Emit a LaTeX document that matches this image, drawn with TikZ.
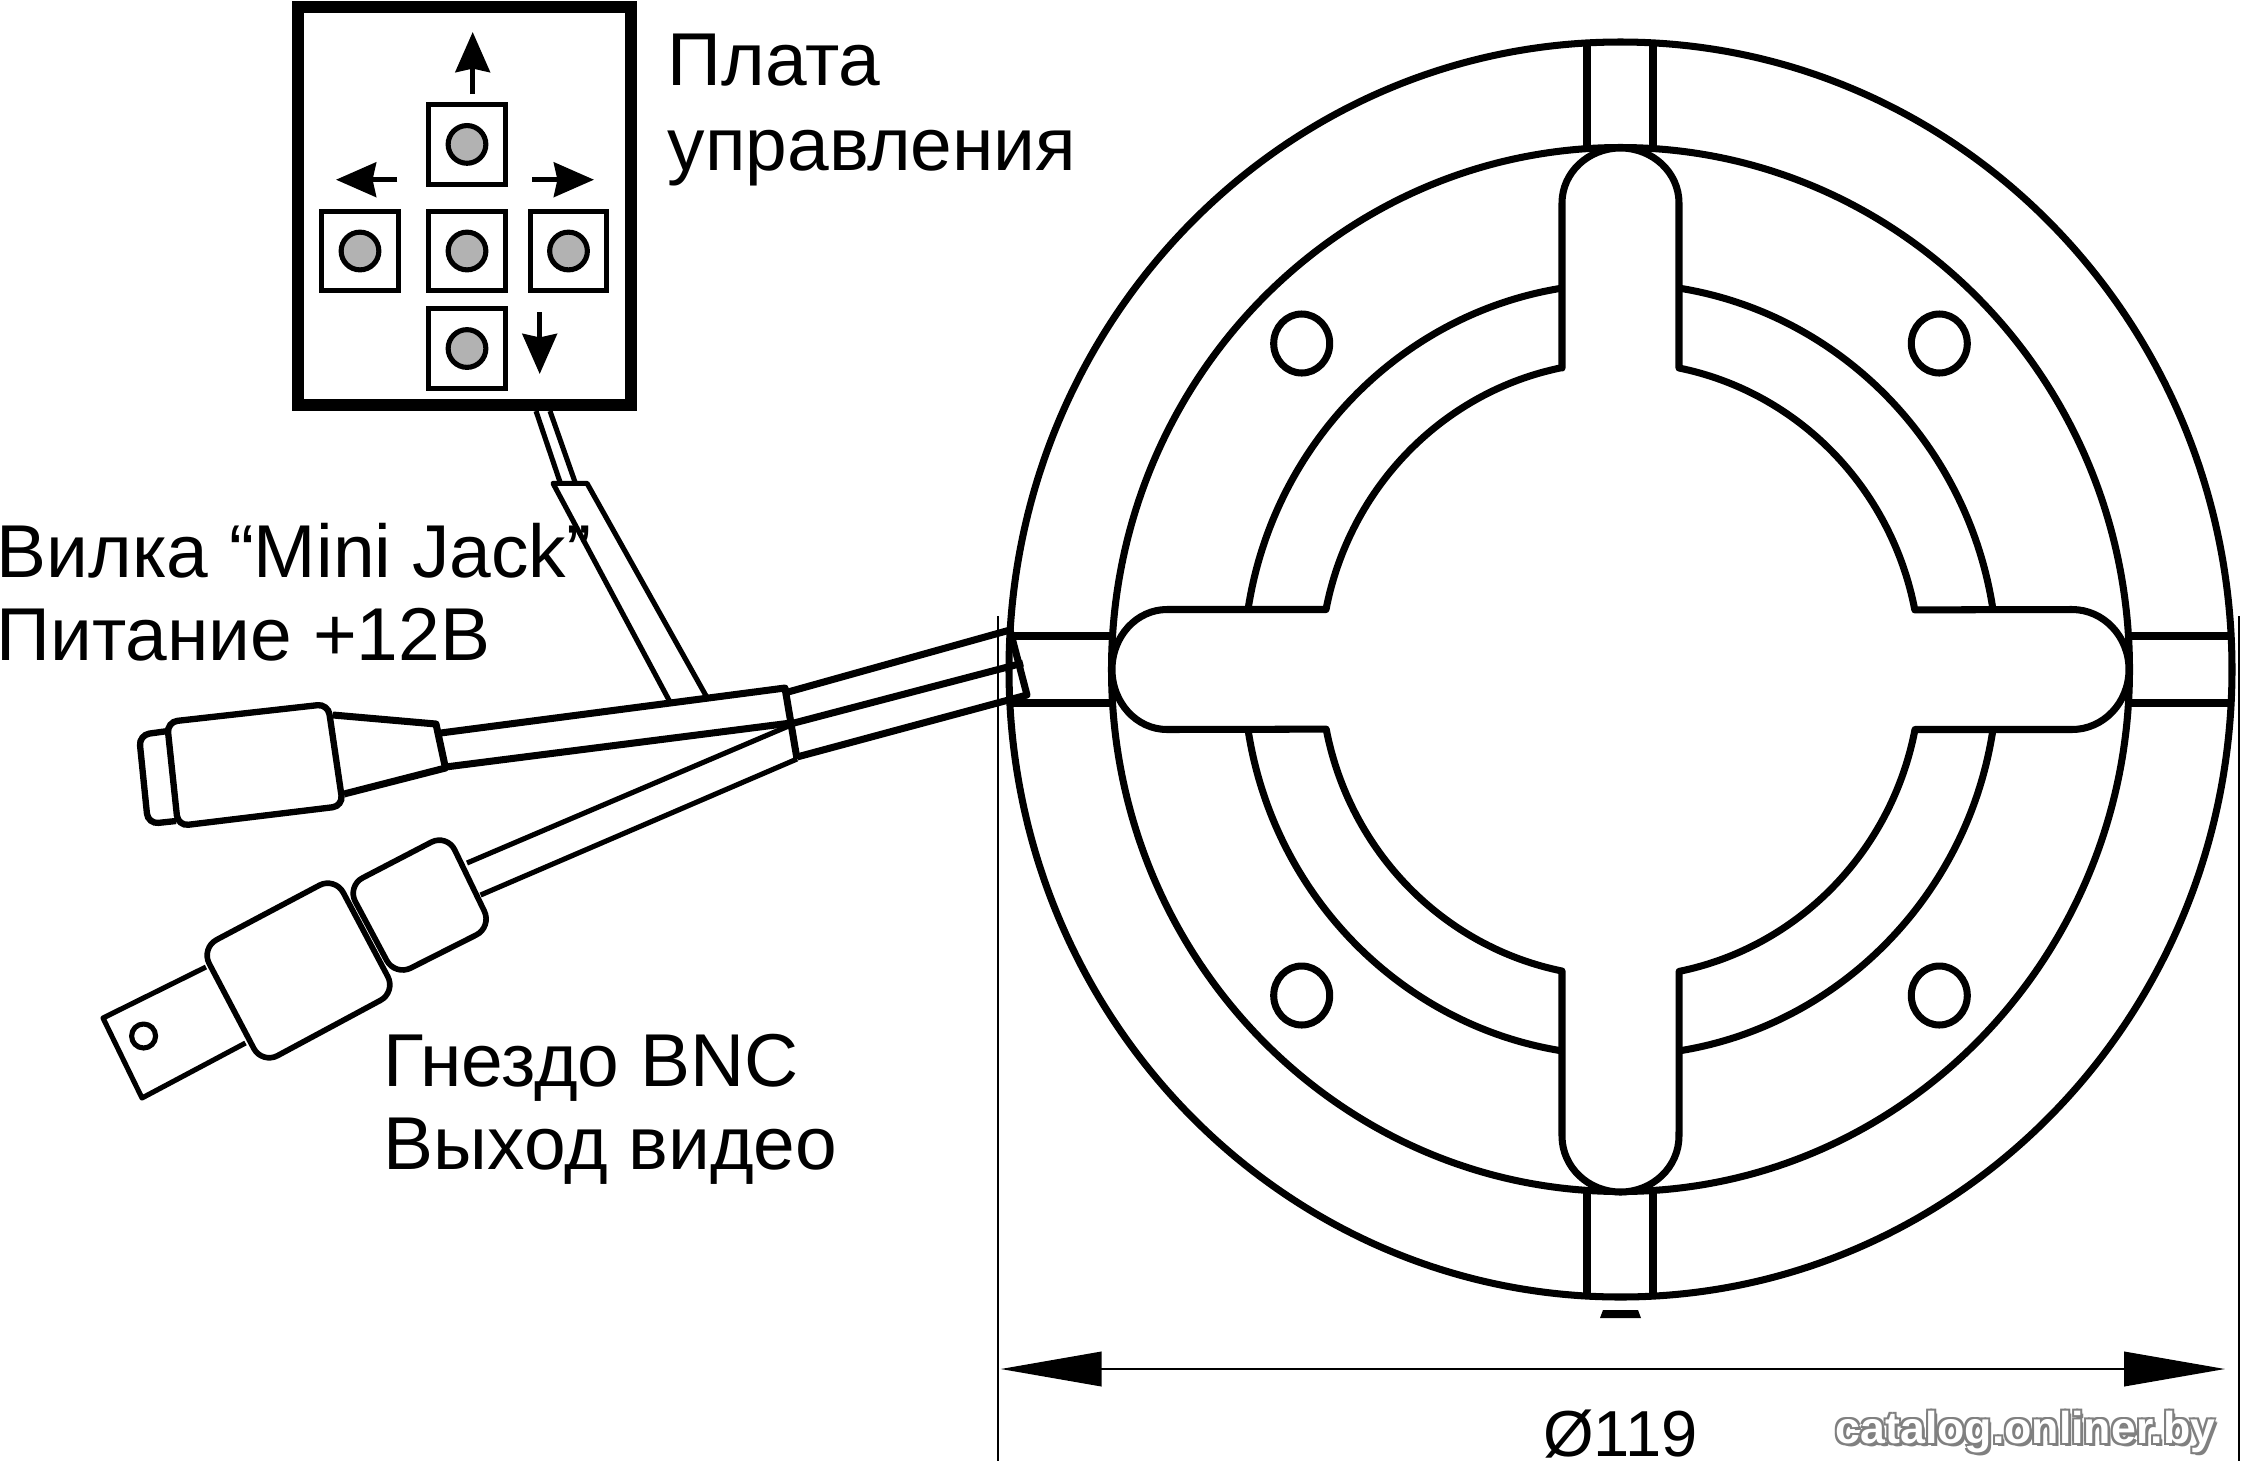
\documentclass[tikz,border=0pt]{standalone}
\usepackage{fontspec}
\setmainfont{Liberation Sans}
\usetikzlibrary{arrows.meta}
\definecolor{btngray}{gray}{0.7}
\tikzset{every picture/.style={x=0.01cm,y=-0.01cm}}
\tikzset{
    part/.style={line width=2pt, line join=round},
    thinpart/.style={line width=1.45pt, line join=round},
    plug/.style={line width=1.8pt, rounded corners=3pt},
    bigplug/.style={line width=1.6pt, rounded corners=5pt},
    btnbox/.style={draw, line width=1.45pt, minimum width=0.767cm, minimum height=0.793cm, inner sep=0},
    btndot/.style={draw, circle, line width=1.45pt, fill=btngray, minimum size=0.377cm, inner sep=0},
    btnarrow/.style={line width=1.45pt, -{Stealth[length=11.4pt, width=9.8pt, inset=1pt]}},
    dimline/.style={line width=0.65pt},
    caption/.style={inner sep=0, anchor=base west, font=\fontsize{21.3}{25}\selectfont},
    wmtext/.style={inner sep=0, anchor=base west, font=\fontsize{12.7}{15}\selectfont\bfseries}
}

\begin{document}
\begin{tikzpicture}
    \useasboundingbox (0,0) rectangle (2241,1469);

    % Define the center of the housing
    \def\centerx{1620.5}
    \def\centery{669.5}
    \coordinate (hub) at (\centerx,\centery);

    % Draw the outer rings
    \draw[part] (hub) ellipse [x radius=611.5, y radius=627.5];
    \draw[part] (hub) ellipse [x radius=509, y radius=522];
    \draw[part] (hub) ellipse [x radius=377, y radius=386];

    % Draw the channels between the rings
    \foreach \x in {1587,1653} {
        \draw[part] (\x,42) -- (\x,150);
        \draw[part] (\x,1192) -- (\x,1297);
    }
    \foreach \y in {636,703} {
        \draw[part] (1009,\y) -- (1112,\y);
        \draw[part] (2129,\y) -- (2232,\y);
    }

    % Draw the cross with the inner ring as one outline
    \draw[part, fill=white] (1562,368) -- (1562,203)
        arc [start angle=180, end angle=360, x radius=58.5, y radius=55] -- (1679,368)
        arc [start angle=-78.76, end angle=-11.2, x radius=300, y radius=307.5] -- (2072,609.5)
        arc [start angle=-90, end angle=90, x radius=57, y radius=60] -- (1915,729.5)
        arc [start angle=11.2, end angle=78.76, x radius=300, y radius=307.5] -- (1679,1136)
        arc [start angle=0, end angle=180, x radius=58.5, y radius=56] -- (1562,971)
        arc [start angle=101.24, end angle=168.8, x radius=300, y radius=307.5] -- (1167,729.5)
        arc [start angle=90, end angle=270, x radius=55, y radius=60] -- (1326,609.5)
        arc [start angle=191.2, end angle=258.76, x radius=300, y radius=307.5] -- cycle;

    % Mounting holes
    \foreach \x in {1301.7,1939.3} {
        \foreach \y in {343.5,995.5} {
            \draw[part] (\x,\y) ellipse [x radius=28, y radius=29.5];
        }
    }

    % Small mark under the housing
    \fill (1603,1310) -- (1638,1310) -- (1641,1318) -- (1600,1318) -- cycle;

    % Control board
    \draw[line width=3.3pt] (298,7) rectangle (631,405);
    \foreach \name/\x/\y in {btnup/467/144.4,btnmid/467/251,btnleft/360/251,btnright/568.5/251,btndown/467/348.5} {
        \node[btnbox] (\name) at (\x,\y) {};
        \node[btndot] (\name dot) at (\x,\y) {};
    }
    \draw[btnarrow] (472.7,94) -- (472.7,32);
    \draw[btnarrow] (397.3,179.7) -- (336,179.7);
    \draw[btnarrow] (532.3,179.7) -- (594,179.7);
    \draw[btnarrow] (539.7,312.3) -- (539.7,374);

    % Cable from the board
    \draw[thinpart] (536,411) -- (560,482);
    \draw[thinpart] (550,411) -- (575,482);
    \draw[thinpart] (670,702) -- (553,483.3) -- (587,483.3) -- (706.7,697);

    % Cable junction
    \draw[part] (440.6,733) -- (785,688) -- (797,759);
    \draw[part] (445.5,767) -- (791,723);
    \draw[part] (788,692) -- (1010,630) -- (1027,695) -- (797,757);
    \draw[part] (794,723) -- (1023,663);

    % Mini Jack plug
    \draw[plug] (168,731) -- (139,735) -- (148,824) -- (176,821);
    \draw[plug] (167,722) -- (328,704) -- (343,806) -- (178,826) -- cycle;
    \draw[part] (333,715) -- (436,724) -- (445.5,768) -- (344,794);

    % BNC plug
    \draw[thinpart] (791,725) -- (467,863);
    \draw[thinpart] (797,759) -- (480.6,895);
    \draw[bigplug] (447,834) -- (492,927) -- (395,976) -- (347,886) -- cycle;
    \draw[bigplug] (335,877) -- (396,992) -- (262,1064) -- (201,948) -- cycle;
    \draw[thinpart] (206,967) -- (103,1018) -- (142,1098) -- (245.5,1043);
    \draw[thinpart] (143.6,1036) circle (12);

    % Dimension lines
    \coordinate (dimleft) at (998,616);
    \coordinate (dimright) at (2239,616);
    \draw[dimline] (dimleft) -- ++(0,845);
    \draw[dimline] (dimright) -- ++(0,845);
    \draw[dimline, {Triangle[length=28.7pt, width=9.8pt]}-{Triangle[length=28.7pt, width=9.8pt]}] (1000.7,1369) -- (2225,1369);

    % Add labels
    \node[caption] (boardA) at (667,85) {Плата};
    \node[caption] (boardB) at (667,170) {управления};
    \node[caption] (jackA) at (-4,577) {Вилка “Mini Jack”};
    \node[caption] (jackB) at (-4,660) {Питание +12В};
    \node[caption] (bncA) at (383,1086) {Гнездо BNC};
    \node[caption] (bncB) at (383,1169) {Выход видео};
    \node[inner sep=0, anchor=base, font=\fontsize{18.5}{22}\selectfont] (dimtext) at (1620.5,1456) {Ø119};

    % Add watermark
    \foreach \dx/\dy in {-2/-2,2/-2,-2/2,2/2,3/3} {
        \node[wmtext, text=black!50] (wm\dx\dy) at (1835+\dx,1443+\dy) {catalog.onliner.by};
    }
    \node[wmtext, text=white] (wmtop) at (1835,1443) {catalog.onliner.by};
\end{tikzpicture}
\end{document}
